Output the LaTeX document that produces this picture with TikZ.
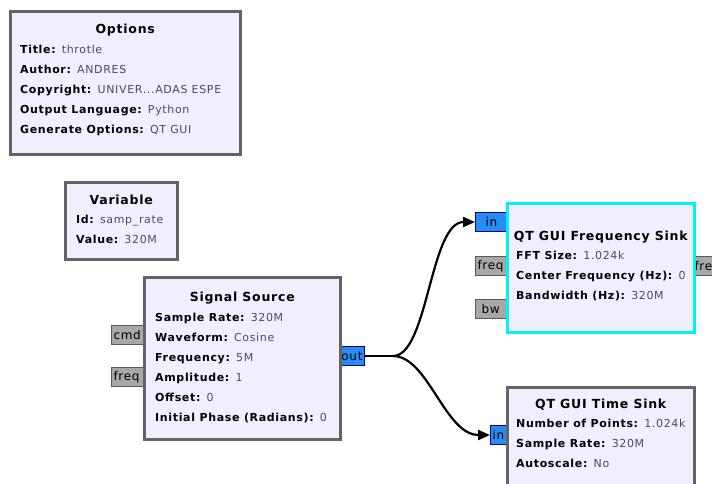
\documentclass[tikz,border=0pt]{standalone}
\usepackage{fontspec}
\setmainfont{DejaVu Sans}
\newfontfamily\blockfont[LetterSpace=6]{DejaVu Sans}
\usetikzlibrary{arrows.meta, positioning, calc}

\definecolor{blockfill}{RGB}{241,239,255}
\definecolor{blockline}{RGB}{100,100,100}
\definecolor{selline}{RGB}{0,240,255}
\definecolor{valtext}{RGB}{72,72,112}
\definecolor{portgray}{RGB}{168,168,168}
\definecolor{portblue}{RGB}{40,140,240}

\tikzset{
  block/.style={draw=blockline, line width=2.5pt, fill=blockfill, anchor=north west, inner sep=0pt},
  selblock/.style={block, draw=selline},
  blocktitle/.style={font=\blockfont\fontsize{12.5}{13}\selectfont\bfseries},
  params/.style={font=\blockfont\fontsize{11}{20}\selectfont, align=left, anchor=north west, inner sep=0pt},
  port/.style={draw=gray!70!black, fill=portgray, line width=1pt, inner xsep=2pt, inner ysep=0pt,
    minimum height=19, text width=40, align=left, font=\blockfont\fontsize{12}{12}\selectfont},
  inport/.style={port, draw=blue!60!black, fill=portblue},
  wire/.style={line width=2.2pt, -{Triangle[length=12pt,width=10pt]}},
}
\newcommand{\param}[2]{\textbf{#1:} \textcolor{valtext}{#2}}

\begin{document}
\begin{tikzpicture}[x=1pt, y=-1pt]
  \clip (0,0) rectangle (712,483);

  % ports first, the blocks cover their inner ends
  \node[port, anchor=west] (cmd) at (111,335) {cmd};
  \node[port, anchor=west] (fqin) at (111,377) {freq};
  \node[inport, anchor=east, text width=38] (out) at (365,356) {\hfill out};
  \node[inport, anchor=west] (fin) at (475,222) {\hspace{8pt}in};
  \node[port, anchor=west] (ffreq) at (475,266) {freq};
  \node[port, anchor=west] (fbw) at (475,309) {\hspace{4pt}bw};
  \node[port, anchor=west] (ffout) at (686,266) {\hspace{6pt}fre};
  \node[inport, anchor=west] (tin) at (490,435) {in};

  % Options
  \node[block, minimum width=230, minimum height=143] (opts) at (9,10) {};
  \node[blocktitle] at ($(opts.north)+(0,20)$) {Options};
  \node[params] at ($(opts.north west)+(11,35)$) {%
    \param{Title}{throtle}\\
    \param{Author}{ANDRES}\\
    \param{Copyright}{UNIVER...ADAS ESPE}\\
    \param{Output Language}{Python}\\
    \param{Generate Options}{QT GUI}};

  % Variable
  \node[block, minimum width=112, minimum height=77] (var) at (64,181) {};
  \node[blocktitle] at ($(var.north)+(0,19)$) {Variable};
  \node[params] at ($(var.north west)+(12,34)$) {%
    \param{Id}{samp\_rate}\\
    \param{Value}{320M}};

  % Signal Source
  \node[block, minimum width=196, minimum height=162] (src) at (143,276) {};
  \node[blocktitle] at ($(src.north)+(0,22)$) {Signal Source};
  \node[params] at ($(src.north west)+(12,37)$) {%
    \param{Sample Rate}{320M}\\
    \param{Waveform}{Cosine}\\
    \param{Frequency}{5M}\\
    \param{Amplitude}{1}\\
    \param{Offset}{0}\\
    \param{Initial Phase (Radians)}{0}};

  % QT GUI Frequency Sink
  \node[selblock, minimum width=187, minimum height=129] (fsink) at (506,202) {};
  \node[blocktitle] at ($(fsink.north)+(0,35)$) {QT GUI Frequency Sink};
  \node[params] at ($(fsink.north west)+(10,49)$) {%
    \param{FFT Size}{1.024k}\\
    \param{Center Frequency (Hz)}{0}\\
    \param{Bandwidth (Hz)}{320M}};

  % QT GUI Time Sink
  \node[block, minimum width=187, minimum height=110] (tsink) at (506,386) {};
  \node[blocktitle] at ($(tsink.north)+(0,19)$) {QT GUI Time Sink};
  \node[params] at ($(tsink.north west)+(10,33)$) {%
    \param{Number of Points}{1.024k}\\
    \param{Sample Rate}{320M}\\
    \param{Autoscale}{No}};

  % connections
  \coordinate (split) at ($(out.east)+(28,0)$);
  \draw[line width=2.2pt] (out.east) -- (split);
  \draw[wire] (split) .. controls +(35,0) and +(-45,0) .. (fin.west);
  \draw[wire] (split) .. controls +(35,0) and +(-45,0) .. (tin.west);
\end{tikzpicture}
\end{document}
